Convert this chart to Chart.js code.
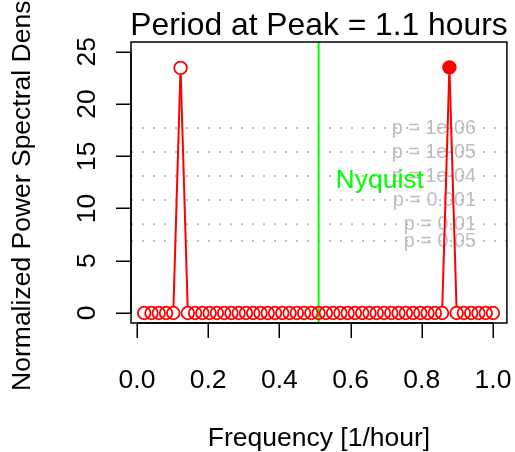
<!DOCTYPE html>
<html>
<head>
<meta charset="utf-8">
<script src="https://cdn.jsdelivr.net/npm/chart.js@4/dist/chart.umd.min.js"></script>
<style>
html,body{margin:0;padding:0;background:#fff;}
#wrap{width:515px;height:452px;position:relative;}
</style>
</head>
<body>
<div id="wrap"><canvas id="c"></canvas></div>
<script>
const frequencies = [0.0204,0.0408,0.0612,0.0816,0.1020,0.1224,0.1429,0.1633,0.1837,0.2041,
  0.2245,0.2449,0.2653,0.2857,0.3061,0.3265,0.3469,0.3673,0.3878,0.4082,
  0.4286,0.4490,0.4694,0.4898,0.5102,0.5306,0.5510,0.5714,0.5918,0.6122,
  0.6327,0.6531,0.6735,0.6939,0.7143,0.7347,0.7551,0.7755,0.7959,0.8163,
  0.8367,0.8571,0.8776,0.8980,0.9184,0.9388,0.9592,0.9796,1.0000];
const power = [0,0,0,0,0,23.45,0,0,0,0,
  0,0,0,0,0,0,0,0,0,0,
  0,0,0,0,0,0,0,0,0,0,
  0,0,0,0,0,0,0,0,0,0,
  0,0,23.5,0,0,0,0,0,0];
const xTicks = [0, 0.2, 0.4, 0.6, 0.8, 1.0];
const yTicks = [0, 5, 10, 15, 20, 25];
const sigLevels = [17.71, 15.40, 13.10, 10.80, 8.50, 6.89];
const sigLabels = ['p = 1e-06', 'p = 1e-05', 'p = 1e-04', 'p = 0.001', 'p = 0.01', 'p = 0.05'];
const nyquist = 0.5102;
const titleText = 'Period at Peak = 1.1 hours';
const xLabel = 'Frequency [1/hour]';
const yLabel = 'Normalized Power Spectral Density';

const X_MIN = -0.01676, X_MAX = 1.0391;
const Y_MIN = -0.957, Y_MAX = 25.928;
const FONT = '"Liberation Sans", Arial, Helvetica, sans-serif';
const GREY = '#BEBEBE';

let maxIdx = 0;
power.forEach((v, i) => { if (v >= power[maxIdx]) maxIdx = i; });

const points = frequencies.map((f, i) => ({x: f, y: power[i]}));

const datasets = [];
sigLevels.forEach(v => {
  datasets.push({
    data: [{x: X_MIN, y: v}, {x: X_MAX, y: v}],
    borderColor: GREY, borderWidth: 2, borderDash: [2, 9],
    pointRadius: 0, showLine: true, order: 5
  });
});
datasets.push({
  data: [{x: nyquist, y: Y_MIN}, {x: nyquist, y: Y_MAX}],
  borderColor: '#00FF00', borderWidth: 2, pointRadius: 0, showLine: true, order: 3
});
datasets.push({
  data: points, showLine: false, order: 1,
  pointStyle: 'circle', pointRadius: 6.3, pointBorderWidth: 1.8,
  pointBorderColor: '#FF0000',
  pointBackgroundColor: ctx => ctx.dataIndex === maxIdx ? '#FF0000' : 'rgba(0,0,0,0)'
});
const DATA_IDX = datasets.length - 1;

const rPlot = {
  id: 'rplot',
  beforeDatasetsDraw(chart) {
    const ctx = chart.ctx, xs = chart.scales.x, ys = chart.scales.y;
    ctx.save();
    ctx.fillStyle = GREY;
    ctx.font = '19.8px ' + FONT;
    ctx.textAlign = 'right';
    ctx.textBaseline = 'middle';
    sigLevels.forEach((v, i) => {
      ctx.fillText(sigLabels[i], xs.getPixelForValue(0.952), ys.getPixelForValue(v) + 0.5);
    });
    ctx.restore();
  },
  afterDatasetsDraw(chart) {
    const ctx = chart.ctx, xs = chart.scales.x, ys = chart.scales.y;
    const meta = chart.getDatasetMeta(DATA_IDX);
    ctx.save();
    ctx.strokeStyle = '#FF0000';
    ctx.lineWidth = 2;
    const gap = 7;
    for (let i = 0; i < meta.data.length - 1; i++) {
      const a = meta.data[i], b = meta.data[i + 1];
      const dx = b.x - a.x, dy = b.y - a.y, d = Math.hypot(dx, dy);
      if (d <= 2 * gap) continue;
      const ux = dx / d, uy = dy / d;
      ctx.beginPath();
      ctx.moveTo(a.x + ux * gap, a.y + uy * gap);
      ctx.lineTo(b.x - ux * gap, b.y - uy * gap);
      ctx.stroke();
    }
    ctx.fillStyle = '#00FF00';
    ctx.font = '26.5px ' + FONT;
    ctx.textAlign = 'left';
    ctx.textBaseline = 'alphabetic';
    ctx.fillText('Nyquist', xs.getPixelForValue(0.558), 188);
    ctx.restore();
  },
  afterDraw(chart) {
    const ctx = chart.ctx, xs = chart.scales.x, ys = chart.scales.y, a = chart.chartArea;
    ctx.save();
    ctx.strokeStyle = '#000';
    ctx.lineWidth = 1.5;
    ctx.strokeRect(a.left, a.top, a.right - a.left, a.bottom - a.top);
    ctx.fillStyle = '#000';
    const x0 = xs.getPixelForValue(xTicks[0]), x1 = xs.getPixelForValue(xTicks[xTicks.length - 1]);
    ctx.beginPath();
    ctx.moveTo(x0, a.bottom); ctx.lineTo(x1, a.bottom);
    xTicks.forEach(t => {
      const px = Math.round(xs.getPixelForValue(t)) + 0.25;
      ctx.moveTo(px, a.bottom); ctx.lineTo(px, a.bottom + 15);
    });
    const y0 = ys.getPixelForValue(yTicks[0]), y1 = ys.getPixelForValue(yTicks[yTicks.length - 1]);
    ctx.moveTo(a.left, y0); ctx.lineTo(a.left, y1);
    yTicks.forEach(t => {
      const py = Math.round(ys.getPixelForValue(t)) + 0.25;
      ctx.moveTo(a.left, py); ctx.lineTo(a.left - 15, py);
    });
    ctx.stroke();
    ctx.font = '26.5px ' + FONT;
    ctx.textAlign = 'center';
    ctx.textBaseline = 'alphabetic';
    xTicks.forEach(t => {
      ctx.fillText(t.toFixed(1), xs.getPixelForValue(t), 388);
    });
    yTicks.forEach(t => {
      ctx.save();
      ctx.translate(94.5, ys.getPixelForValue(t));
      ctx.rotate(-Math.PI / 2);
      ctx.fillText(String(t), 0, 0);
      ctx.restore();
    });
    const cx = (a.left + a.right) / 2, cy = (a.top + a.bottom) / 2;
    ctx.fillText(xLabel, cx, 446);
    ctx.save();
    ctx.translate(29.5, cy);
    ctx.rotate(-Math.PI / 2);
    ctx.fillText(yLabel, 0, 0);
    ctx.restore();
    ctx.font = '31.8px ' + FONT;
    ctx.fillText(titleText, cx, 35);
    ctx.restore();
  }
};

new Chart(document.getElementById('c'), {
  type: 'scatter',
  data: { datasets },
  options: {
    responsive: true, maintainAspectRatio: false, devicePixelRatio: 1, animation: false,
    layout: { padding: { left: 131, top: 42, right: 6, bottom: 129 } },
    plugins: { legend: { display: false }, tooltip: { enabled: false }, title: { display: false } },
    scales: {
      x: { type: 'linear', display: false, min: X_MIN, max: X_MAX },
      y: { type: 'linear', display: false, min: Y_MIN, max: Y_MAX }
    },
    events: []
  },
  plugins: [rPlot]
});
</script>
</body>
</html>
